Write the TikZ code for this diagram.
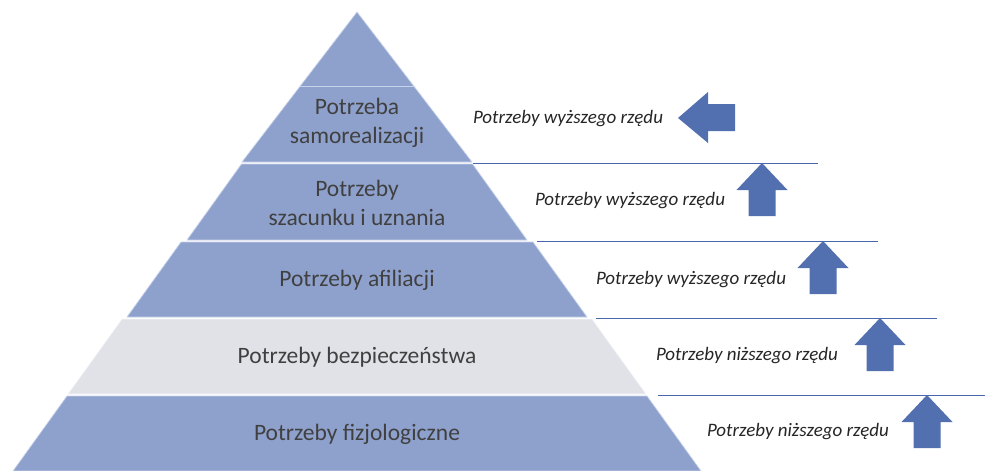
\documentclass[tikz,border=0pt]{standalone}
\usepackage{fontspec}
\setmainfont{Carlito}
\definecolor{layerblue}{RGB}{142,161,205}
\definecolor{layergrey}{RGB}{224,226,232}
\definecolor{bevel}{RGB}{200,210,234}
\definecolor{bevelgrey}{RGB}{245,246,249}
\definecolor{rulecol}{RGB}{74,102,172}
\definecolor{arrowcol}{RGB}{82,111,175}
\definecolor{txt}{RGB}{64,64,64}
\tikzset{
  layer/.style={fill=layerblue, draw=bevel, line width=0.7pt, line join=round},
  greylayer/.style={fill=layergrey, draw=bevelgrey, line width=0.7pt, line join=round},
  leveltext/.style={text=txt, font=\fontsize{23.5}{29}\selectfont, align=center, inner sep=0pt},
  sidetext/.style={text=black!85, font=\fontsize{19}{23}\selectfont\itshape, inner sep=0pt},
  divider/.style={draw=rulecol, line width=0.8pt},
  arrowshape/.style={fill=arrowcol, draw=none},
  uparrow/.pic={
    \path[arrowshape] (0,0) -- (25.5,27) -- (13.5,27) -- (13.5,53)
      -- (-13.5,53) -- (-13.5,27) -- (-25.5,27) -- cycle;
  },
  % trapezoid band centred on x=357: top y, bottom y, top half-width, bottom half-width
  pics/band/.style n args={5}{code={
    \path[#1] (357-#4,#2) -- (357+#4,#2) -- (357+#5,#3) -- (357-#5,#3) -- cycle;
  }}
}
\begin{document}
\begin{tikzpicture}[x=1pt,y=-1pt]
  \useasboundingbox (0,0) rectangle (985,471);

  % pyramid layers, apex at (357,12)
  \path[layer] (357,12) -- (472,162) -- (242,162) -- cycle;
  \draw[bevel, line width=0.8pt] (300,86) -- (414,86);
  \pic {band={layer}{164}{240}{115.5}{170}};
  \pic {band={layer}{242}{317}{176}{230}};
  \pic {band={greylayer}{319}{394}{235}{289}};
  \pic {band={layer}{396}{471}{290}{344}};

  % level names
  \node[leveltext] (self)   at (357,123) {Potrzeba\\samorealizacji};
  \node[leveltext] (esteem) at (357,203) {Potrzeby\\szacunku i uznania};
  \node[leveltext] (belong) at (357,280) {Potrzeby afiliacji};
  \node[leveltext] (safety) at (357,357) {Potrzeby bezpieczeństwa};
  \node[leveltext] (physio) at (357,434) {Potrzeby fizjologiczne};

  % dividing rules to the right of the pyramid
  \coordinate (r1a) at (473,163); \coordinate (r1b) at (818,163);
  \coordinate (r2a) at (537,241); \coordinate (r2b) at (878,241);
  \coordinate (r3a) at (596,318); \coordinate (r3b) at (937,318);
  \coordinate (r4a) at (658,395); \coordinate (r4b) at (985,395);
  \draw[divider] (r1a) -- (r1b);
  \draw[divider] (r2a) -- (r2b);
  \draw[divider] (r3a) -- (r3b);
  \draw[divider] (r4a) -- (r4b);

  % side labels
  \node[sidetext] (lab1) at (568,119) {Potrzeby wyższego rzędu};
  \node[sidetext] (lab2) at (630,201) {Potrzeby wyższego rzędu};
  \node[sidetext] (lab3) at (691,280) {Potrzeby wyższego rzędu};
  \node[sidetext] (lab4) at (747,356) {Potrzeby niższego rzędu};
  \node[sidetext] (lab5) at (798,432) {Potrzeby niższego rzędu};

  % arrows
  \path[arrowshape] (678,118) -- (708,92) -- (708,104) -- (735,104)
    -- (735,131) -- (708,131) -- (708,143) -- cycle;
  \pic at (762,163) {uparrow};
  \pic at (823,241) {uparrow};
  \pic at (880,318) {uparrow};
  \pic at (927,395) {uparrow};
\end{tikzpicture}
\end{document}
